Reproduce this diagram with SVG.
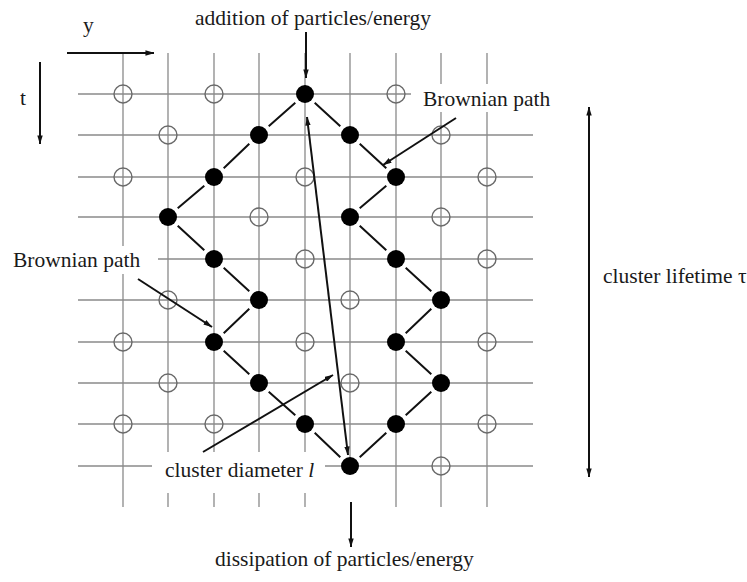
<svg xmlns="http://www.w3.org/2000/svg" width="747" height="582" viewBox="0 0 747 582">
<defs>
<style>
.grid{stroke:#8a8a8a;stroke-width:1.3;fill:none}
.open{fill:none;stroke:#6a6a6a;stroke-width:1.4}
.full{fill:#000;stroke:none}
.seg{stroke:#111;stroke-width:2;fill:none}
.arr{stroke:#111;stroke-width:2;fill:none}
.lbl{font-family:"Liberation Serif","Times New Roman",serif;font-size:21.5px;fill:#1a1a1a}
.mask{fill:#fff;stroke:none}
</style>
<marker id="ah" viewBox="0 0 10 6" markerWidth="9" markerHeight="5.5" refX="9.5" refY="3" orient="auto-start-reverse" markerUnits="userSpaceOnUse">
<path d="M0,0 L10,3 L0,6 z" fill="#111"/>
</marker>
</defs>
<rect width="747" height="582" fill="#fff"/>
<g id="grid">
<path class="grid" d="M123,53V507M168,53V507M214,53V507M259,53V507M305,53V507M350,53V466M396,53V507M441,53V507M487,53V507"/>
<path class="grid" d="M78,94H533M78,135H533M78,177H533M78,217H533M78,259H533M78,300H533M78,342H533M78,383H533M78,424H533M78,466H533"/>
<rect class="mask" x="8" y="246" width="150" height="28"/>
<rect class="mask" x="411" y="84" width="145" height="28"/>
<rect class="mask" x="152" y="452" width="173" height="41"/>
</g>
<g id="empty-sites">
<circle class="open" cx="123" cy="94" r="9"/><circle class="open" cx="214" cy="94" r="9"/><circle class="open" cx="396" cy="94" r="9"/>
<circle class="open" cx="168" cy="135" r="9"/><circle class="open" cx="441" cy="135" r="9"/>
<circle class="open" cx="123" cy="177" r="9"/><circle class="open" cx="305" cy="177" r="9"/><circle class="open" cx="487" cy="177" r="9"/>
<circle class="open" cx="259" cy="217" r="9"/><circle class="open" cx="441" cy="217" r="9"/>
<circle class="open" cx="305" cy="259" r="9"/><circle class="open" cx="487" cy="259" r="9"/>
<circle class="open" cx="168" cy="300" r="9"/><circle class="open" cx="350" cy="300" r="9"/>
<circle class="open" cx="123" cy="342" r="9"/><circle class="open" cx="305" cy="342" r="9"/><circle class="open" cx="487" cy="342" r="9"/>
<circle class="open" cx="168" cy="383" r="9"/><circle class="open" cx="350" cy="383" r="9"/>
<circle class="open" cx="123" cy="424" r="9"/><circle class="open" cx="214" cy="424" r="9"/><circle class="open" cx="487" cy="424" r="9"/>
<circle class="open" cx="441" cy="466" r="9"/>
</g>
<g id="cluster-particles">
<circle class="full" cx="305" cy="94" r="9"/>
<circle class="full" cx="259" cy="135" r="9"/><circle class="full" cx="350" cy="135" r="9"/>
<circle class="full" cx="214" cy="177" r="9"/><circle class="full" cx="396" cy="177" r="9"/>
<circle class="full" cx="168" cy="217" r="9"/><circle class="full" cx="350" cy="217" r="9"/>
<circle class="full" cx="214" cy="259" r="9"/><circle class="full" cx="396" cy="259" r="9"/>
<circle class="full" cx="259" cy="300" r="9"/><circle class="full" cx="441" cy="300" r="9"/>
<circle class="full" cx="214" cy="342" r="9"/><circle class="full" cx="396" cy="342" r="9"/>
<circle class="full" cx="259" cy="383" r="9"/><circle class="full" cx="441" cy="383" r="9"/>
<circle class="full" cx="305" cy="424" r="9"/><circle class="full" cx="396" cy="424" r="9"/>
<circle class="full" cx="350" cy="466" r="9"/>
</g>
<g id="connectors">
<path class="seg" d="M295.3,102.7L268.7,126.3M249.3,143.7L223.7,168.3M204.3,185.7L177.7,208.3M177.7,225.7L204.3,250.3M223.7,267.7L249.3,291.3M249.3,308.7L223.7,333.3M223.7,350.7L249.3,374.3M268.7,391.7L295.3,415.3M314.7,432.7L340.3,457.3"/>
<path class="seg" d="M314.7,102.7L340.3,126.3M359.7,143.7L386.3,168.3M386.3,185.7L359.7,208.3M359.7,225.7L386.3,250.3M405.7,267.7L431.3,291.3M431.3,308.7L405.7,333.3M405.7,350.7L431.3,374.3M431.3,391.7L405.7,415.3M386.3,432.7L359.7,457.3"/>
<line class="arr" x1="67" y1="53" x2="154" y2="53" marker-end="url(#ah)"/>
<line class="arr" x1="40" y1="62" x2="40" y2="144" marker-end="url(#ah)"/>
<line class="arr" x1="306" y1="32" x2="306" y2="78" marker-end="url(#ah)"/>
<line class="arr" x1="351" y1="502" x2="351" y2="547" marker-end="url(#ah)"/>
<line class="arr" x1="307" y1="117" x2="348" y2="455" marker-start="url(#ah)" marker-end="url(#ah)"/>
<line class="arr" x1="589" y1="107" x2="589" y2="477" marker-start="url(#ah)" marker-end="url(#ah)"/>
<line class="arr" x1="456" y1="118" x2="383" y2="165" marker-end="url(#ah)"/>
<line class="arr" x1="138" y1="279" x2="212" y2="327" marker-end="url(#ah)"/>
<line class="arr" x1="203" y1="452" x2="333" y2="375" marker-end="url(#ah)"/>
</g>
<g id="labels">
<text class="lbl" x="83" y="32">y</text>
<text class="lbl" x="20" y="105">t</text>
<text class="lbl" x="195" y="25">addition of particles/energy</text>
<text class="lbl" x="423" y="106">Brownian path</text>
<text class="lbl" x="13" y="267">Brownian path</text>
<text class="lbl" x="165" y="477">cluster diameter <tspan font-style="italic">l</tspan></text>
<text class="lbl" x="603" y="283">cluster lifetime τ</text>
<text class="lbl" x="215" y="566">dissipation of particles/energy</text>
</g>
</svg>
